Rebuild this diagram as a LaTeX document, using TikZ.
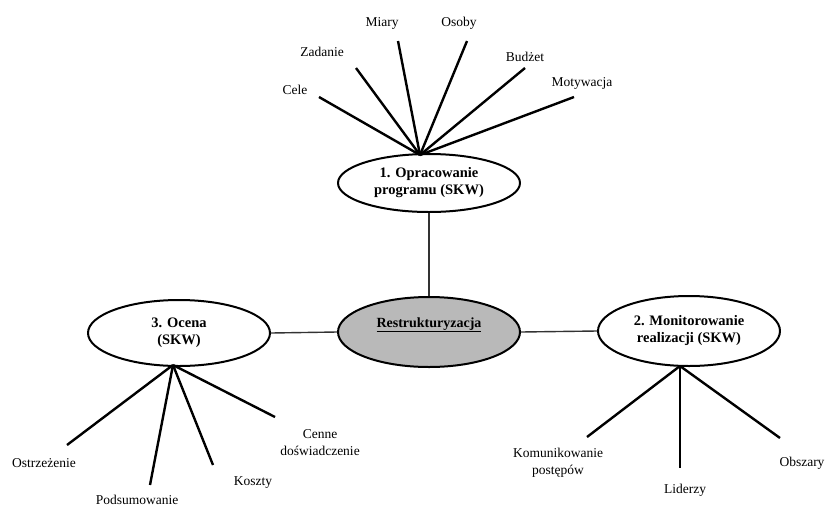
\documentclass[tikz,border=0pt]{standalone}
\usepackage{fontspec}
\setmainfont{Liberation Serif}
\usepackage{tikz}
\usetikzlibrary{shapes.geometric}
\tikzset{etap/.style={ellipse,draw,line width=2pt,inner sep=0pt,minimum width=182pt,minimum height=62pt,align=center,font=\fontsize{14.5}{17}\selectfont\bfseries},
  szpr/.style={line width=2.4pt},
  wez/.style={line width=1.4pt,draw=black!80},
  etyk/.style={font=\fontsize{13.5}{17}\selectfont,align=center,inner sep=0pt}}

\begin{document}
\begin{tikzpicture}[x=1pt,y=-1pt,line join=round]
\useasboundingbox (0,0) rectangle (828,507);
% --- ellipses
\node[etap,fill=gray!55,minimum height=70pt,font=\fontsize{14}{17}\selectfont\bfseries] (restr) at (429,332) {\raisebox{5pt}[0pt][0pt]{\underline{Restrukturyzacja}}};
\node[etap,minimum height=58pt] (oprac) at (429,183) {1. Opracowanie\\ programu (SKW)};
\node[etap,minimum height=66pt] (ocena) at (179,333) {3. Ocena\\ (SKW)};
\node[etap,minimum height=70pt] (monit) at (689,331) {2. Monitorowanie\\ realizacji (SKW)};
\draw[wez] (oprac.south) -- (restr.north);
\draw[wez] (ocena.east) -- (restr.west);
\draw[wez] (restr.east) -- (monit.west);
% --- 1: program
\coordinate (hubA) at (420,155);
\node[etyk] (cele) at (295,90) {Cele};
\node[etyk] (zad) at (322,52) {Zadanie};
\node[etyk] (miary) at (382,23) {Miary};
\node[etyk] (osoby) at (459,23) {Osoby};
\node[etyk] (budz) at (525,57) {Budżet};
\node[etyk] (motyw) at (582,83) {Motywacja};
\coordinate (eCele) at (319,97); \coordinate (eZad) at (356,68); \coordinate (eMiary) at (398,41);
\coordinate (eOsoby) at (467,41); \coordinate (eBudz) at (525,68); \coordinate (eMotyw) at (574,97);
\foreach \e in {eCele,eZad,eMiary,eOsoby,eBudz,eMotyw} \draw[szpr] (hubA) -- (\e);
% --- 3: ocena
\coordinate (hubC) at (173,365);
\node[etyk] (ostrz) at (44,463) {Ostrzeżenie};
\node[etyk] (podsum) at (137,500) {Podsumowanie};
\node[etyk] (koszt) at (253,483) {Koszty};
\node[etyk] (cenne) at (320,443) {Cenne\\ doświadczenie};
\coordinate (eOstrz) at (67,445); \coordinate (ePodsum) at (150,485);
\coordinate (eKoszt) at (213,465); \coordinate (eCenne) at (275,417);
\foreach \e in {eOstrz,ePodsum,eKoszt,eCenne} \draw[szpr] (hubC) -- (\e);
% --- 2: monitorowanie
\coordinate (hubB) at (680,366);
\node[etyk] (komun) at (558,463) {Komunikowanie\\ postępów};
\node[etyk] (lider) at (685,490) {Liderzy};
\node[etyk] (obsz) at (802,463) {Obszary};
\coordinate (eKomun) at (587,437); \coordinate (eLider) at (680,468); \coordinate (eObsz) at (780,438);
\foreach \e in {eKomun,eLider,eObsz} \draw[szpr] (hubB) -- (\e);
\end{tikzpicture}
\end{document}
